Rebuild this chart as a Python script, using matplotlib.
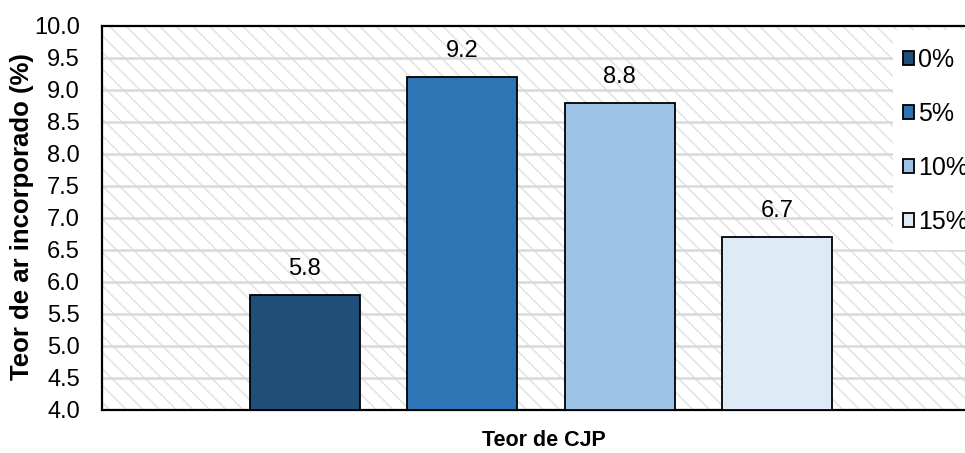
import matplotlib
matplotlib.use("Agg")
import matplotlib.pyplot as plt
from matplotlib.patches import Rectangle

plt.rcParams['font.family'] = ['Liberation Sans', 'DejaVu Sans']
plt.rcParams['hatch.color'] = '#e0e0e0'
plt.rcParams['hatch.linewidth'] = 1.0

series = ['0%', '5%', '10%', '15%']
values = [5.8, 9.2, 8.8, 6.7]
labels = ['5.8', '9.2', '8.8', '6.7']
colors = ['#1f4e79', '#2e75b6', '#9dc3e6', '#deebf7']
yticks = [4.0, 4.5, 5.0, 5.5, 6.0, 6.5, 7.0, 7.5, 8.0, 8.5, 9.0, 9.5, 10.0]

FS = 17
W, H = 965, 453

fig = plt.figure(figsize=(9.65, 4.53), dpi=100)
left, right, top, bottom = 102, 980, 26, 410
ax = fig.add_axes([left / W, 1 - bottom / H, (right - left) / W, (bottom - top) / H])

bg = Rectangle((0, 0), 1, 1, transform=ax.transAxes, facecolor='white',
               edgecolor='#e0e0e0', lw=0, hatch='\\\\', zorder=0)
ax.add_patch(bg)

for y in yticks[1:-1]:
    ax.axhline(y, color='#d9d9d9', lw=1.8, zorder=1)

n = len(values)
width = 0.7
handles = []
for i, (s, v, c, lab) in enumerate(zip(series, values, colors, labels)):
    x = i - (n - 1) / 2
    b = ax.bar(x, v - 4.0, bottom=4.0, width=width, color=c, edgecolor='black',
               lw=1.3, zorder=3, label=s)
    handles.append(b)
    ax.text(x, v + 0.23, lab, ha='center', va='bottom', fontsize=FS, zorder=4)

ax.set_xlim(-2.79, 2.79)
ax.set_ylim(4.0, 10.0)
ax.set_yticks(yticks)
ax.set_yticklabels([f'{t:.1f}' for t in yticks], fontsize=FS)
ax.tick_params(axis='y', length=0, pad=16)
ax.set_xticks([])
for sp in ['left', 'bottom', 'top']:
    ax.spines[sp].set_linewidth(1.6)
    ax.spines[sp].set_color('black')
ax.spines['right'].set_visible(False)

fig.text(22 / W, 1 - 217 / H, 'Teor de ar incorporado (%)', rotation=90,
         ha='center', va='center', fontsize=18.5, fontweight='bold')
fig.text(544 / W, 1 - 440 / H, 'Teor de CJP', ha='center', va='center',
         fontsize=15.5, fontweight='bold')

# legend background
fig.patches.append(Rectangle((893 / W, 1 - 250 / H), (W - 893) / W, 220 / H,
                             transform=fig.transFigure, facecolor='white',
                             edgecolor='none', zorder=2))

LFS = 18
leg = fig.legend(handles=handles, labels=series, loc='upper left',
                 bbox_to_anchor=(885 / W, 1 - 30 / H), fontsize=LFS,
                 frameon=False,
                 handlelength=0.45, handleheight=0.45, handletextpad=0.15,
                 labelspacing=1.2, borderpad=0.72, borderaxespad=0)
leg.set_zorder(5)

fig.savefig('out.png', dpi=100)
